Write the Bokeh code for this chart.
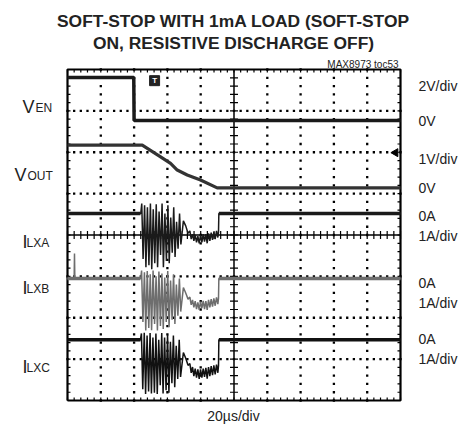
import numpy as np
from bokeh.plotting import figure
from bokeh.models import Label, Range1d
from bokeh.embed import file_html
from bokeh.resources import INLINE
from bokeh.core.properties import value

# ---------------- data (time in us, 20 us/div, 10 div) ----------------
T_DIV = 20.0
N_XDIV = 10
N_YDIV = 8

# channel zero positions (screen divisions from bottom) and scales (units/div)
ven_zero, ven_scale = 6.77, 2.0
vout_zero, vout_scale = 5.14, 1.0
ilxa_zero, ilxa_scale = 4.52, 1.0
ilxb_zero, ilxb_scale = 2.95, 1.0
ilxc_zero, ilxc_scale = 1.47, 1.0

ven_t = [0.0, 39.8, 40.0, 200.0]
ven_v = [2.07, 2.07, 0.0, 0.0]

vout_t = [0.0, 44.9, 55.9, 61.9, 65.9, 71.9, 79.9, 89.9, 200.0]
vout_v = [1.03, 1.03, 0.75, 0.59, 0.43, 0.31, 0.19, 0.0, 0.0]

ilxa_t = [0.0, 44.0, 44.6, 45.4, 46.3, 47.1, 48.0, 48.9, 49.8, 50.6, 51.5, 52.4, 53.3, 54.1,
          55.0, 55.9, 56.8, 57.6, 58.5, 59.4, 60.3, 61.1, 62.0, 62.9, 63.8, 64.6, 65.5, 66.4,
          67.3, 68.1, 69.6, 71.0, 72.4, 73.5, 74.3, 75.1, 75.9, 76.7, 77.5, 78.3, 79.1, 79.9,
          80.7, 81.5, 82.3, 83.1, 83.9, 84.7, 85.5, 86.3, 87.1, 87.9, 88.7, 89.5, 90.3, 90.7,
          90.9, 200.0]
ilxa_i = [0.0, 0.0, 0.24, -1.10, 0.20, -1.30, 0.15, -1.25, 0.24, -1.35, 0.10, -1.20, 0.22, -1.30,
          0.05, -1.00, 0.24, -1.30, 0.00, -1.15, 0.20, -1.20, -0.10, -0.95, 0.15, -1.05, -0.20, -0.85,
          0.00, -0.75, -0.18, -0.30, -0.48, -0.42, -0.62, -0.50, -0.66, -0.52, -0.70, -0.55, -0.72, -0.52,
          -0.70, -0.50, -0.68, -0.50, -0.72, -0.48, -0.66, -0.46, -0.64, -0.45, -0.62, -0.42, -0.58, -0.45,
          0.0, 0.0]

ilxb_t = [0.0, 4.0, 4.2, 4.4, 44.0, 44.5, 45.3, 46.2, 47.0, 47.9, 48.8, 49.7, 50.5, 51.4, 52.3,
          53.2, 54.0, 54.9, 55.8, 56.7, 57.5, 58.4, 59.3, 60.2, 61.0, 61.9, 62.8, 63.7, 64.5,
          65.4, 66.3, 67.2, 68.0, 69.6, 71.0, 72.4, 73.5, 74.3, 75.1, 75.9, 76.7, 77.5, 78.3,
          79.1, 79.9, 80.7, 81.5, 82.3, 83.1, 83.9, 84.7, 85.5, 86.3, 87.1, 87.9, 88.7, 89.5,
          90.3, 90.7, 90.9, 200.0]
ilxb_i = [0.0, 0.0, 0.60, 0.0, 0.0, 0.19, -1.05, 0.15, -1.26, 0.18, -1.20, 0.10, -1.25, 0.19, -1.10,
          0.05, -1.26, 0.17, -1.15, 0.12, -1.22, 0.02, -1.05, 0.18, -1.18, -0.05, -1.00, 0.10, -1.10,
          -0.15, -0.90, 0.00, -0.80, -0.22, -0.35, -0.50, -0.45, -0.64, -0.52, -0.70, -0.55, -0.74, -0.58,
          -0.76, -0.56, -0.72, -0.54, -0.74, -0.55, -0.76, -0.52, -0.70, -0.50, -0.68, -0.48, -0.66, -0.46,
          -0.62, -0.48, 0.0, 0.0]

ilxc_t = [0.0, 43.8, 44.4, 45.2, 46.1, 46.9, 47.8, 48.7, 49.6, 50.4, 51.3, 52.2, 53.1, 53.9, 54.8,
          55.7, 56.6, 57.4, 58.3, 59.2, 60.1, 60.9, 61.8, 62.7, 63.6, 64.4, 65.3, 66.2, 67.1,
          67.9, 69.6, 71.0, 72.4, 73.5, 74.3, 75.1, 75.9, 76.7, 77.5, 78.3, 79.1, 79.9, 80.7,
          81.5, 82.3, 83.1, 83.9, 84.7, 85.5, 86.3, 87.1, 87.9, 88.7, 89.5, 90.3, 90.7, 90.9,
          200.0]
ilxc_i = [0.0, 0.0, 0.15, -1.20, 0.17, -1.31, 0.10, -1.25, 0.16, -1.30, 0.05, -1.28, 0.15, -1.31,
          0.00, -1.10, 0.16, -1.30, 0.05, -1.22, 0.12, -1.28, -0.05, -1.05, 0.10, -1.15, -0.15, -0.95,
          0.00, -0.90, -0.31, -0.45, -0.62, -0.58, -0.80, -0.66, -0.88, -0.70, -0.92, -0.72, -0.95, -0.72,
          -0.92, -0.70, -0.90, -0.68, -0.94, -0.66, -0.88, -0.64, -0.86, -0.62, -0.84, -0.60, -0.80, -0.62,
          0.0, 0.0]

trig_t, trig_level = 52.3, 7.73
level_t, level_y = 197.0, 5.99
burst_on, burst_off = 43.8, 90.9

# ---------------- layout (canvas pixels) ----------------
W, H = 458, 427
FX0, FX1, FY0, FY1 = 67, 400, 69, 400   # scope frame edges in canvas pixels
XMAX = T_DIV * N_XDIV
x_per_px = XMAX / (FX1 - FX0)
y_per_px = N_YDIV / (FY1 - FY0)

FONT = "Liberation Sans"
p = figure(width=W, height=H, output_backend="svg", toolbar_location=None,
           x_axis_location=None, y_axis_location=None,
           x_range=Range1d(-FX0 * x_per_px, XMAX + (W - FX1) * x_per_px),
           y_range=Range1d(-(H - FY1) * y_per_px, N_YDIV + FY0 * y_per_px),
           min_border=0)
p.grid.visible = False
p.outline_line_color = None
p.background_fill_color = "white"
p.border_fill_color = "white"

# dotted graticule
xs_fine = np.arange(0, XMAX + 0.01, T_DIV / 5)
ys_fine = np.arange(0, N_YDIV + 0.001, 0.2)
gx, gy = [], []
for k in range(1, N_YDIV):
    if k == N_YDIV // 2:
        continue
    gx.extend(xs_fine); gy.extend([k] * len(xs_fine))
for k in range(1, N_XDIV):
    if k == N_XDIV // 2:
        continue
    gx.extend([k * T_DIV] * len(ys_fine)); gy.extend(ys_fine)
p.scatter(gx, gy, marker="square", size=2.3, color="black", line_width=0)

# center cross with ticks
xc, yc = XMAX / 2, N_YDIV / 2
p.line([xc, xc], [0, N_YDIV], color="black", line_width=1.5)
p.line([0, XMAX], [yc, yc], color="black", line_width=1.5)
tl = 4
p.segment(x0=xc - tl * x_per_px, x1=xc + tl * x_per_px, y0=ys_fine, y1=ys_fine, color="black", line_width=1.2)
p.segment(x0=xs_fine, x1=xs_fine, y0=yc - tl * y_per_px, y1=yc + tl * y_per_px, color="black", line_width=1.2)
# border ticks
bl = 3
p.segment(x0=xs_fine, x1=xs_fine, y0=0, y1=bl * y_per_px, color="black", line_width=1.2)
p.segment(x0=xs_fine, x1=xs_fine, y0=N_YDIV, y1=N_YDIV - bl * y_per_px, color="black", line_width=1.2)
p.segment(x0=0, x1=bl * x_per_px, y0=ys_fine, y1=ys_fine, color="black", line_width=1.2)
p.segment(x0=XMAX, x1=XMAX - bl * x_per_px, y0=ys_fine, y1=ys_fine, color="black", line_width=1.2)
# frame
p.line([0, XMAX, XMAX, 0, 0], [0, 0, N_YDIV, N_YDIV, 0], color="black", line_width=2.2)

def to_div(vals, zero, scale):
    return [zero + v / scale for v in vals]

# voltage traces
p.line(ven_t, to_div(ven_v, ven_zero, ven_scale), color="#1a1a1a", line_width=3.5)
p.line(vout_t, to_div(vout_v, vout_zero, vout_scale), color="#333333", line_width=3.2)

# current traces: thin full trace plus thick noisy baselines
for t, i, zero, scale, col in [(ilxa_t, ilxa_i, ilxa_zero, ilxa_scale, "#1a1a1a"),
                               (ilxb_t, ilxb_i, ilxb_zero, ilxb_scale, "#6e6e6e"),
                               (ilxc_t, ilxc_i, ilxc_zero, ilxc_scale, "#111111")]:
    p.line(t, to_div(i, zero, scale), color=col, line_width=1.5)
    p.line([0, burst_on], [zero, zero], color=col, line_width=3.5)
    p.line([burst_off, XMAX], [zero, zero], color=col, line_width=3.5)

# trigger marker and level arrow
p.scatter([trig_t], [trig_level], marker="square", size=10, color="#222222")
p.text([trig_t], [trig_level], text=["T"], text_color="white", text_font=value(FONT),
       text_font_size="8px", text_font_style="bold", text_align="center", text_baseline="middle")
p.scatter([level_t], [level_y], marker="triangle", angle=np.pi / 2, size=8, color="black")

def px2x(px):
    return (px - FX0) * x_per_px

def py2y(py):
    return (FY1 - py) * y_per_px

def lab(x, y, s, size, align="left", baseline="alphabetic", style="normal", font=FONT, color="#222222"):
    p.add_layout(Label(x=px2x(x), y=py2y(y), text=s, text_font=font, text_font_size=size,
                       text_align=align, text_baseline=baseline, text_font_style=style,
                       text_color=color))

# title
lab(233, 20, "SOFT-STOP WITH 1mA LOAD (SOFT-STOP", "17.4px", "center", "middle", "bold")
lab(233, 42, "ON, RESISTIVE DISCHARGE OFF)", "17.4px", "center", "middle", "bold")
lab(398, 64, "MAX8973 toc53", "10px", "right", "middle")
lab(233, 415, "20\u00b5s/div", "14px", "center", "middle")

# right labels
right_labels = ["2V/div", "0V", "1V/div", "0V", "0A", "1A/div", "0A", "1A/div", "0A", "1A/div"]
right_rows = [85, 120, 158, 187, 215, 235, 282, 302, 338, 358]
for s, py in zip(right_labels, right_rows):
    lab(418, py, s, "14px", "left", "middle")

# left labels (main letter + subscript)
left = [("V", "EN", 22, 35, 106), ("V", "OUT", 14, 27, 174), ("I", "LXA", 22, 26, 241.7),
        ("I", "LXB", 22, 26, 287.3), ("I", "LXC", 22, 26, 366)]
for m, sub, xm, xs, pyb in left:
    lab(xm, pyb, m, "18px")
    lab(xs, pyb + 1, sub, "12px")

open("out.html", "w").write(file_html(p, INLINE))
